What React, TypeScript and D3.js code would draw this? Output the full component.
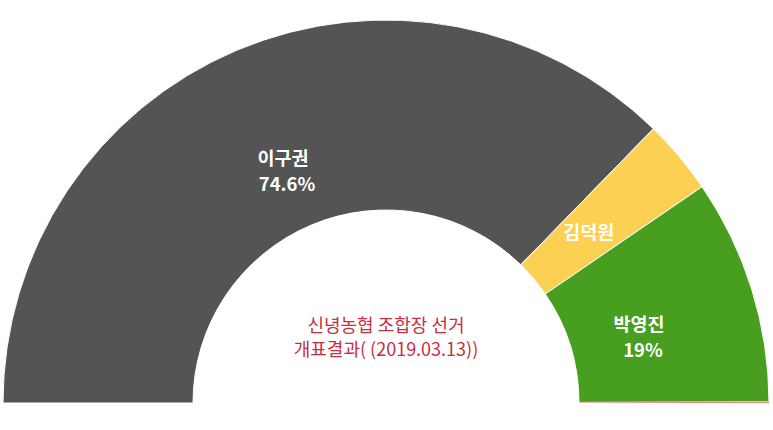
import { useRef, useEffect } from 'react';
import * as d3 from 'd3';

const names = ['이구권', '김덕원', '박영진', ''];
const shares = [74.6, 6.3, 19.0, 0.1];
const showValue = [true, false, true, false];
const colors = ['#545454', '#fcd052', '#479e1f', '#f08080'];
const titleLines = ['신녕농협 조합장 선거', '개표결과( (2019.03.13))'];

export default function App() {
  const svgRef = useRef<SVGSVGElement>(null);

  useEffect(() => {
    const svg = d3.select(svgRef.current);
    svg.selectAll('*').remove();

    const W = 773, H = 430;
    const cx = 386, cy = 403;
    const outerR = 383, innerR = 193;
    const font = '"Noto Sans CJK KR", "Noto Sans", sans-serif';

    const data = names.map((n, i) => ({ name: n, value: shares[i], color: colors[i], show: showValue[i] }));

    const pie = d3.pie<any>()
      .value(d => d.value)
      .sort(null)
      .startAngle(-Math.PI / 2)
      .endAngle(Math.PI / 2);

    const arc = d3.arc<any>().innerRadius(innerR).outerRadius(outerR);
    const labelArc = d3.arc<any>().innerRadius(265).outerRadius(265);

    const g = svg.append('g').attr('transform', `translate(${cx},${cy})`);
    const arcs = pie(data);

    g.selectAll('path')
      .data(arcs)
      .join('path')
      .attr('d', arc)
      .attr('fill', d => d.data.color)
      .attr('stroke', '#fff')
      .attr('stroke-width', d => (d.data.name ? 1 : 0));

    // name labels at the arc centroid, value one line below
    const named = arcs.filter(d => d.data.name);
    const txt = (sel: any) => sel
      .attr('text-anchor', 'middle')
      .attr('fill', '#fff')
      .style('font-family', font)
      .style('font-size', '18.5px')
      .style('font-weight', 'bold');

    g.selectAll('text.name')
      .data(named)
      .join('text')
      .attr('class', 'name')
      .attr('x', d => labelArc.centroid(d)[0])
      .attr('y', d => labelArc.centroid(d)[1])
      .attr('dy', '0.35em')
      .call(txt)
      .text(d => d.data.name);

    g.selectAll('text.val')
      .data(named.filter(d => d.data.show))
      .join('text')
      .attr('class', 'val')
      .attr('x', d => labelArc.centroid(d)[0] + 4)
      .attr('y', d => labelArc.centroid(d)[1] + 26)
      .attr('dy', '0.35em')
      .call(txt)
      .text(d => `${d.data.value}%`);

    // center title
    svg.append('g')
      .selectAll('text')
      .data(titleLines)
      .join('text')
      .attr('x', cx)
      .attr('y', (_, i) => 332 + i * 24)
      .attr('text-anchor', 'middle')
      .attr('fill', '#c6303e')
      .style('font-family', font)
      .style('font-size', '18px')
      .text(d => d);

    svg.attr('width', W).attr('height', H);
  }, []);

  return (
    <svg ref={svgRef} width={773} height={430}
      style={{ position: 'absolute', left: 0, top: 0, background: '#fff' }} />
  );
}
